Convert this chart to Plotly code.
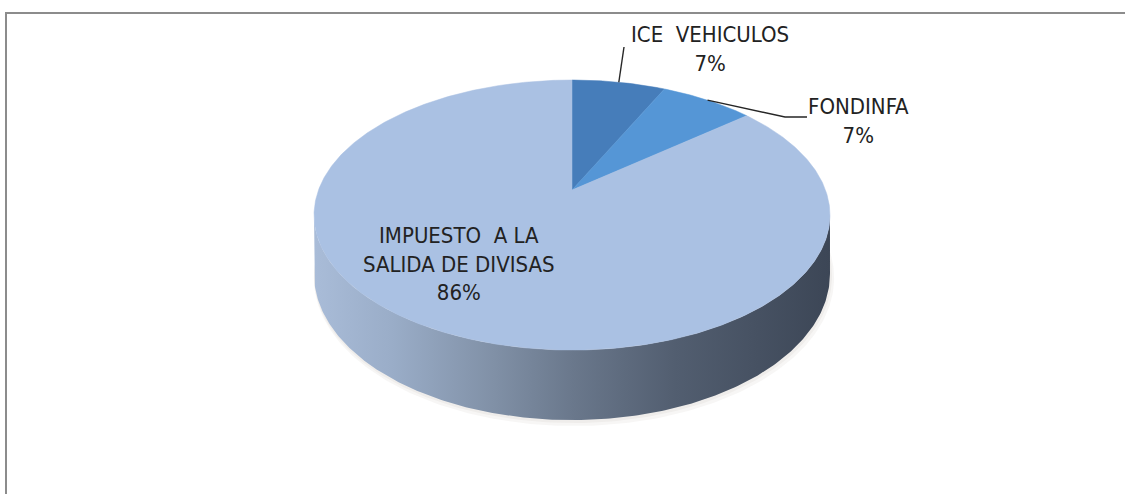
import numpy as np
import plotly.graph_objects as go

# Revenue shares by source (percent)
categories = ["ICE\u00a0 VEHICULOS", "FONDINFA", "IMPUESTO\u00a0 A LA<br>SALIDA DE DIVISAS"]
values = [7, 7, 86]

slice_colors = ["#467DBA", "#5596D6", "#AAC1E3"]
text_color = "#222222"
font_family = "Liberation Sans Narrow, Arial Narrow, DejaVu Sans Condensed, sans-serif"

# Perspective disc geometry (pixel space of the page)
CX, CY = 572.0, 190.0      # projected disc centre
R = 253.5                  # horizontal radius
A = 130.4                  # vertical radius before perspective
K = 0.1855                 # perspective strength
H = 57.0                   # disc thickness

W, HT = 1125, 494


def project(theta_deg, r=1.0, depth=0.0):
    """Map polar angle (clockwise from the far edge) onto the tilted disc."""
    t = np.radians(theta_deg)
    u = r * np.sin(t)
    v = r * np.cos(t)
    den = 1 + K * v
    return CX + R * u / den, CY + (-A * v + H * depth) / den


fig = go.Figure()

# faint soft edge under the disc
for i in range(2, 0, -1):
    th = np.linspace(0, 360, 361)
    sx, sy = project(th, r=1.0 + 0.004 * i, depth=1.0 + 0.03 * i)
    fig.add_trace(go.Scatter(
        x=sx + 1.0 * i, y=sy, mode="lines", fill="toself",
        line=dict(width=0), fillcolor="rgba(90,70,50,0.05)",
        hoverinfo="skip"))

# cylinder wall of the front half
theta_r = np.degrees(np.arccos(-K))
wall = np.linspace(theta_r, 360 - theta_r, 240)
tx, ty = project(wall, depth=0.0)
bx, by = project(wall[::-1], depth=1.0)
fig.add_trace(go.Scatter(
    x=np.concatenate([tx, bx]), y=np.concatenate([ty, by]),
    mode="lines", fill="toself", line=dict(width=0),
    fillgradient=dict(
        type="horizontal",
        colorscale=[[0.0, "#A9BCD8"], [0.15, "#9AADC8"], [0.35, "#8090A6"],
                    [0.5, "#6A788C"], [0.7, "#525E70"], [1.0, "#3C4656"]]),
    hoverinfo="skip"))

# top faces of the slices
total = float(sum(values))
bounds = np.concatenate([[0.0], np.cumsum(values) / total * 360.0])
mids = []
for i, (cat, val) in enumerate(zip(categories, values)):
    a0, a1 = bounds[i], bounds[i + 1]
    arc = np.linspace(a0, a1, max(int((a1 - a0) * 2), 8))
    ax_, ay_ = project(arc)
    px = np.concatenate([[CX], ax_, [CX]])
    py = np.concatenate([[CY], ay_, [CY]])
    fig.add_trace(go.Scatter(
        x=px, y=py, mode="lines", fill="toself",
        line=dict(width=0.5, color=slice_colors[i]),
        fillcolor=slice_colors[i], name=cat.replace("<br>", " "),
        hoverinfo="name"))
    mids.append((a0 + a1) / 2)

# label placement: (x, y) of text block centre and leader-line bends
label_pos = [(710, 49), (858, 121), (459, 264)]
leader_bends = [[(624, 47)], [(785, 117), (807, 117)], None]

for i, (cat, val) in enumerate(zip(categories, values)):
    if leader_bends[i]:
        mx, my = project(mids[i])
        lx = [float(mx)] + [p[0] for p in leader_bends[i]]
        ly = [float(my)] + [p[1] for p in leader_bends[i]]
        fig.add_trace(go.Scatter(x=lx, y=ly, mode="lines",
                                 line=dict(color="#262626", width=1.4),
                                 hoverinfo="skip"))
    fig.add_annotation(
        x=label_pos[i][0], y=label_pos[i][1], text=f"{cat}<br>{val}%",
        showarrow=False, xanchor="center", yanchor="middle",
        font=dict(family=font_family, size=22, color=text_color))

# chart frame: top and left edges
fig.add_shape(type="path", xref="x", yref="y",
              path=f"M 6 {HT} L 6 13 L {W} 13",
              line=dict(color="#8C8C8C", width=2))

fig.update_layout(
    width=W, height=HT, margin=dict(l=0, r=0, t=0, b=0),
    paper_bgcolor="white", plot_bgcolor="white", showlegend=False,
    xaxis=dict(range=[0, W], visible=False, fixedrange=True),
    yaxis=dict(range=[HT, 0], visible=False, fixedrange=True),
)

fig.write_html("out.html")
